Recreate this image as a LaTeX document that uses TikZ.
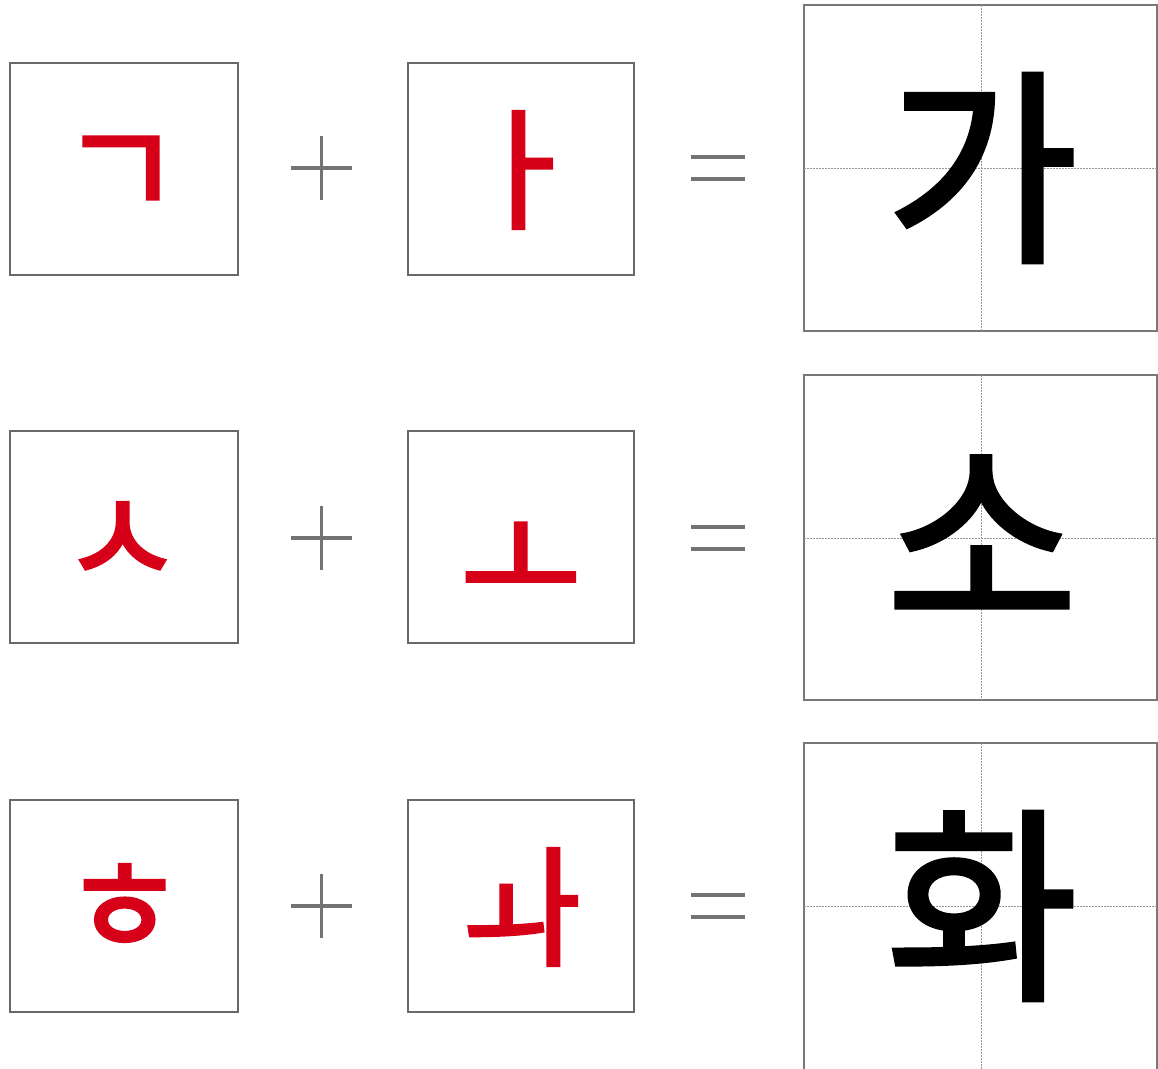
\documentclass[tikz,border=0pt]{standalone}
\usepackage{fontspec}
\newfontfamily\kr[FakeBold=2.2]{Noto Sans CJK KR}
\definecolor{jamored}{RGB}{214,0,24}
\definecolor{boxgray}{RGB}{105,105,105}
\definecolor{opgray}{RGB}{115,115,115}
\definecolor{guidegray}{RGB}{150,150,150}
\tikzset{
  jamobox/.style={draw=boxgray, line width=1.8pt, fill=white},
  sylbox/.style={draw=boxgray!90, line width=1.8pt, fill=white},
  guide/.style={draw=guidegray, line width=1pt, dash pattern=on 1.5pt off 1.5pt},
  jamo/.style={text=jamored, font=\kr\fontsize{132}{132}\selectfont, inner sep=0pt},
  syl/.style={text=black, font=\kr\fontsize{208}{208}\selectfont, inner sep=0pt},
  op/.style={draw=opgray, line width=3.2pt}
}
\begin{document}
\begin{tikzpicture}[x=1pt,y=-1pt]
\useasboundingbox (0,0) rectangle (1158,1068);
\fill[white] (0,0) rectangle (1158,1068);
\foreach \r/\t/\c/\rt/\rb in {1/63/168/5/331, 2/431/538/375/700, 3/800/906/743/1075}{
  \draw[jamobox] (10,\t) rectangle (238,\t+212);
  \draw[jamobox] (408,\t) rectangle (634,\t+212);
  \draw[sylbox] (804,\rt) rectangle (1157,\rb);
  \draw[guide] (981,\rt) -- (981,\rb);
  \draw[guide] (804,\c) -- (1157,\c);
  \draw[op] (291,\c) -- (352,\c) (321.5,\c-32) -- (321.5,\c+32);
  \draw[op] (691,\c-11) -- (745,\c-11) (691,\c+11) -- (745,\c+11);
}
\node[jamo] (g) at (121,177) {ㄱ};
\node[jamo] (a) at (522,170) {ㅏ};
\node[syl] (ga) at (982,168) {가};
\node[jamo] (s) at (122,544) {ㅅ};
\node[jamo] (o) at (521,565) {ㅗ};
\node[syl] (so) at (982,536) {소};
\node[jamo] (h) at (124,909) {ㅎ};
\node[jamo] (wa) at (522,907) {ㅘ};
\node[syl] (hwa) at (982,906) {화};
\end{tikzpicture}
\end{document}
